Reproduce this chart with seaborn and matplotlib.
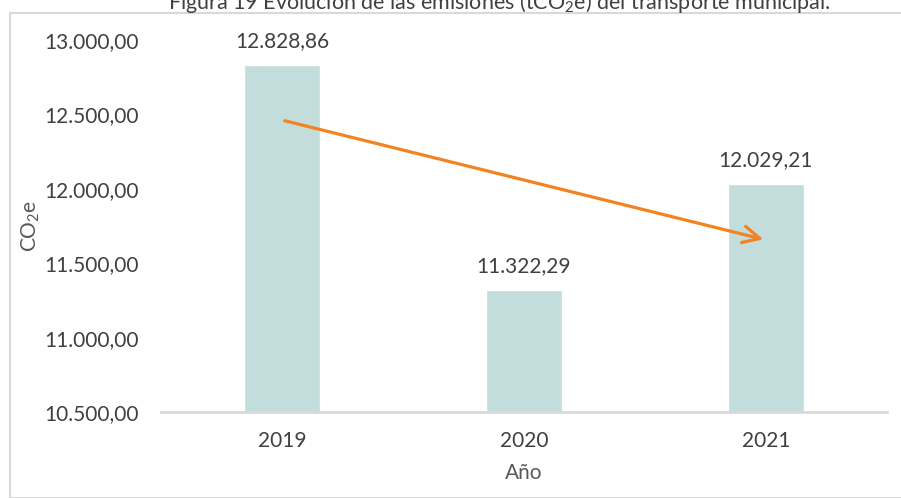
import matplotlib
matplotlib.use("Agg")
import matplotlib.pyplot as plt
import seaborn as sns
import pandas as pd
from matplotlib.patches import Rectangle

years = ["2019", "2020", "2021"]
values = [12828.86, 11322.29, 12029.21]
value_labels = ["12.828,86", "11.322,29", "12.029,21"]
yticks = [10500, 11000, 11500, 12000, 12500, 13000]
ytick_labels = ["10.500,00", "11.000,00", "11.500,00", "12.000,00", "12.500,00", "13.000,00"]
trend_start = (0, 12462)
trend_end = (2, 11656)
title = "Figura 19 Evolución de las emisiones (tCO$_2$e) del transporte municipal."

sns.set_theme(style="white")
plt.rcParams['font.family'] = ['Lato', 'DejaVu Sans']
plt.rcParams['mathtext.fontset'] = 'custom'
plt.rcParams['mathtext.rm'] = 'Lato'

fig = plt.figure(figsize=(9.01, 4.98), dpi=100)
ax = fig.add_axes([161/901, 1-412/498, 726/901, 372/498])

df = pd.DataFrame({"year": years, "value": values})
sns.barplot(data=df, x="year", y="value", color="#C3DCDC", saturation=1,
            width=0.315, ax=ax)

ax.set_ylim(10500, 13000)
ax.set_xlim(-0.5, 2.5)
ax.set_yticks(yticks)
ax.set_yticklabels(ytick_labels, fontsize=15, color="#404040")
ax.tick_params(axis='x', labelsize=15, colors="#404040", pad=14, length=0)
ax.tick_params(axis='y', length=0, pad=16)
for s in ["top", "right", "left"]:
    ax.spines[s].set_visible(False)
ax.spines["bottom"].set_color("#D9D9D9")
ax.spines["bottom"].set_linewidth(2)

for i, (v, lab) in enumerate(zip(values, value_labels)):
    ax.annotate(lab, (i, v), xytext=(0, 10), textcoords="offset points",
                ha="center", va="bottom", fontsize=15, color="#404040")

ax.annotate("", xy=trend_end, xytext=trend_start,
            arrowprops=dict(arrowstyle="->,head_length=1.0,head_width=0.5",
                            color="#F58220", lw=2.3))

ax.set_xlabel("Año", fontsize=15, color="#595959", labelpad=8)
ax.set_ylabel("CO$_2$e", fontsize=15, color="#595959")
ax.yaxis.set_label_coords((42 - 161) / 726, 0.5)

fig.patches.append(Rectangle((10/901, 0), 1.2, 1 - 13/498, transform=fig.transFigure,
                             fill=False, edgecolor="#D9D9D9", lw=1.5))
fig.text(499/901, 1 - 9/498, title, ha="center", va="baseline", fontsize=15.5, color="#404040")

fig.savefig("out.png", dpi=100)
